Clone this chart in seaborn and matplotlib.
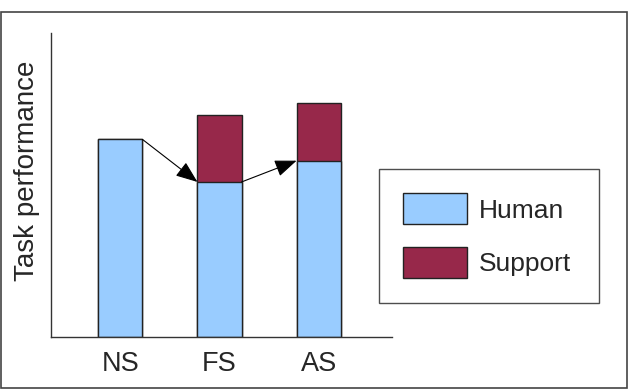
import matplotlib
matplotlib.use("Agg")
import matplotlib.pyplot as plt
from matplotlib.patches import Rectangle
import seaborn as sns

# Datos
categorias = ["NS", "FS", "AS"]
humano = [65, 51, 58]
soporte = [0, 22, 19]
totales = [h + s for h, s in zip(humano, soporte)]

azul = "#99CCFF"
granate = "#97284A"
ancho = 0.445

sns.set_style("white")
plt.rcParams["font.family"] = ["Liberation Sans", "DejaVu Sans"]

fig = plt.figure(figsize=(6.28, 3.9), dpi=100)
ax = fig.add_axes([51 / 628, 1 - 337 / 390, 341 / 628, 304 / 390])

# Barras apiladas: primero el total (soporte), luego la parte humana encima
sns.barplot(x=categorias, y=totales, color=granate, saturation=1, width=ancho,
            edgecolor="#222222", linewidth=1, ax=ax, label="Support")
sns.barplot(x=categorias, y=humano, color=azul, saturation=1, width=ancho,
            edgecolor="#222222", linewidth=1, ax=ax, label="Human")

# Flechas entre la parte humana de cada barra
for i in range(len(categorias) - 1):
    ax.annotate("", xy=(i + 1 - ancho / 2, humano[i + 1]), xytext=(i + ancho / 2, humano[i]),
                arrowprops=dict(arrowstyle="-|>,head_length=0.9,head_width=0.35",
                                color="black", lw=0.8, mutation_scale=15,
                                shrinkA=0, shrinkB=0))

ax.set_xlim(-0.70, 2.74)
ax.set_ylim(0, 100)
ax.set_yticks([])
ax.tick_params(axis="x", length=0, pad=10, labelsize=19.5)
ax.set_xlabel("")
ax.set_ylabel("Task performance", fontsize=20)
ax.yaxis.set_label_coords(-0.032, 0.546)

for lado in ["top", "right"]:
    ax.spines[lado].set_visible(False)
for lado in ["left", "bottom"]:
    ax.spines[lado].set_color("#333333")
    ax.spines[lado].set_linewidth(1)

# Leyenda con Human arriba y Support abajo
handles, labels = ax.get_legend_handles_labels()
if ax.get_legend() is not None:
    ax.get_legend().remove()
orden = [labels.index("Human"), labels.index("Support")]
leg = fig.legend([handles[k] for k in orden], [labels[k] for k in orden],
                 loc="upper left", bbox_to_anchor=(379 / 628, 0, 220 / 628, 1 - 169 / 390),
                 mode="expand", borderaxespad=0, fontsize=19, frameon=True, fancybox=False,
                 handlelength=2.42, handleheight=1.43, labelspacing=0.87,
                 handletextpad=0.45, borderpad=0.92)
leg.get_frame().set_edgecolor("#222222")
leg.get_frame().set_linewidth(1)

# Marco alrededor de la figura
fig.patches.append(Rectangle((0.001, 0.004), 0.997, 0.966, transform=fig.transFigure,
                             fill=False, edgecolor="#444444", linewidth=1.2))

plt.savefig("out.png", dpi=100)
